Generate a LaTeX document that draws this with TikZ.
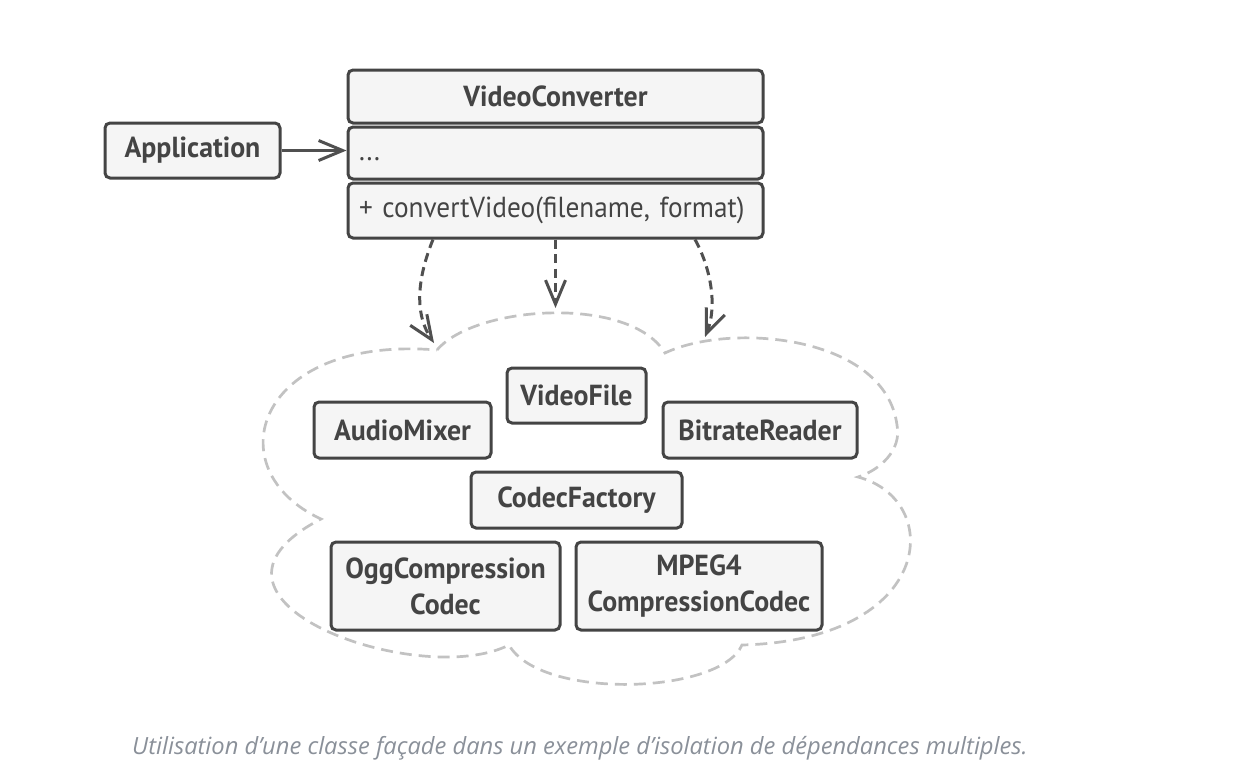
\documentclass[tikz,border=0pt]{standalone}
\usepackage{fontspec}
\setmainfont{PT Sans}[FakeStretch=0.96]
\newfontfamily\opsfont{PT Sans}[FakeStretch=0.94]
\newfontfamily\capfont{Open Sans}
\usetikzlibrary{arrows.meta}

\definecolor{boxline}{HTML}{444444}
\definecolor{boxfill}{HTML}{F5F5F5}
\definecolor{arrowgray}{HTML}{505050}
\definecolor{cloudgray}{HTML}{C2C2C2}
\definecolor{captiongray}{HTML}{8A9099}

\tikzset{
  classbox/.style={draw=boxline, fill=boxfill, line width=1.5pt, rounded corners=2.5pt,
    text=boxline, inner sep=0pt, font=\opsfont\fontsize{14.5}{18}\selectfont},
  classname/.style={classbox, font=\fontsize{14.5}{18}\selectfont\bfseries, align=center},
  member/.style={classbox, inner xsep=5.5pt, text width=196.5pt, align=left},
  uses/.style={draw=arrowgray, line width=1.5pt,
    -{Straight Barb[length=12pt,width=10pt,line width=1.5pt]}},
  depends/.style={uses, dash pattern=on 4.5pt off 2.8pt},
  cloudline/.style={draw=cloudgray, line width=1.35pt, dash pattern=on 6pt off 3.5pt}
}

\begin{document}
\begin{tikzpicture}[x=0.5pt, y=-0.5pt]
\useasboundingbox (0,0) rectangle (1258,782);

% subsystem cloud
\draw[cloudline] (437,350) .. controls (475,305) and (630,295) .. (665,353)
  .. controls (730,322) and (885,335) .. (897,425)
  .. controls (902,450) and (880,470) .. (858,477)
  .. controls (945,500) and (935,640) .. (742,645)
  .. controls (720,695) and (540,700) .. (509,645)
  .. controls (420,690) and (165,600) .. (321,519)
  .. controls (215,470) and (255,335) .. cycle;

\coordinate (audiotip) at (434,343);
\coordinate (videotip) at (555.5,308);
\coordinate (bitratetip) at (705,337);

% facade
\node[classname, minimum width=87.5pt, minimum height=27.5pt] (app) at (192.5,150.5) {Application};
\node[classname, minimum width=207.5pt, minimum height=26.5pt] (vchead) at (555.5,96.5) {VideoConverter};
\node[member, minimum height=26pt] (vcattr) at (555.5,153) {\strut...};
\node[member, minimum height=27.5pt] (vcops) at (555.5,210.5) {\mbox{+ convertVideo(filename, format)}};

\draw[uses] (app.east) -- (app.east -| vcattr.west);

\draw[depends] ([xshift=-61.25pt]vcops.south) .. controls +(-13,32) and +(-22,-33) .. (audiotip);
\draw[depends] (vcops.south) -- (videotip);
\draw[depends] ([xshift=69.75pt]vcops.south) .. controls +(15,27) and +(13,-32) .. (bitratetip);

% subsystem classes
\node[classname, minimum width=88.5pt, minimum height=28pt] (mixer) at (402.5,430) {AudioMixer};
\node[classname, minimum width=69.5pt, minimum height=27.5pt] (file) at (576.5,395.5) {VideoFile};
\node[classname, minimum width=97pt, minimum height=28pt] (bitrate) at (760,430) {BitrateReader};
\node[classname, minimum width=105.5pt, minimum height=28pt] (factory) at (576.5,500) {CodecFactory};
\node[classname, minimum width=114.5pt, minimum height=44pt] (ogg) at (445.5,586) {OggCompression\\Codec};
\node[classname, minimum width=123pt, minimum height=44pt] (mpeg) at (699,586) {MPEG4\\CompressionCodec};

\node[font=\capfont\itshape\fontsize{11.85}{14}\selectfont, text=captiongray] (caption) at (580,748)
  {Utilisation d’une classe façade dans un exemple d’isolation de dépendances multiples.};
\end{tikzpicture}
\end{document}
